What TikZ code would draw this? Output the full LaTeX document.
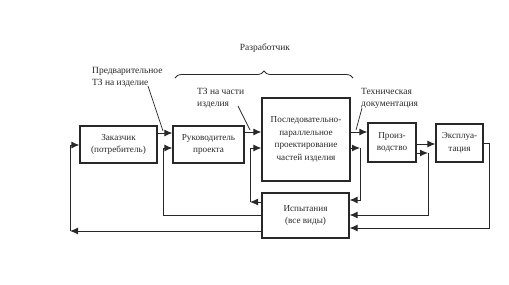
\documentclass[tikz,border=0pt]{standalone}
\usepackage{fontspec}
\setmainfont{Liberation Serif}
\usetikzlibrary{arrows.meta,decorations.pathreplacing}
\definecolor{ink}{RGB}{40,40,40}
\begin{document}
\begin{tikzpicture}[x=1bp,y=-1bp,
  box/.style={draw=ink,line width=1.2bp,inner sep=0pt,align=center,text=ink,
    font=\fontsize{9.2}{12.8}\selectfont},
  lbl/.style={inner sep=0pt,align=left,text=ink,font=\fontsize{9.5}{12}\selectfont},
  conn/.style={draw=ink,line width=1bp},
  arr/.style={conn,-{Latex[length=8bp,width=7bp]}},
  lead/.style={draw=ink,line width=0.7bp}]
\useasboundingbox (0,0) rectangle (509,284);
% boxes
\node[box,minimum width=77bp,minimum height=37bp] (zak) at (118.5,144.5) {Заказчик\\(потребитель)};
\node[box,minimum width=71bp,minimum height=37bp] (ruk) at (208.5,144.5) {Руководитель\\проекта};
\node[box,minimum width=88bp,minimum height=83bp] (pos) at (306,139.5) {Последовательно-\\параллельное\\проектирование\\частей изделия};
\node[box,minimum width=48bp,minimum height=39bp] (pro) at (392,142.5) {Произ-\\водство};
\node[box,minimum width=47bp,minimum height=38bp] (eks) at (459.5,143) {Эксплуа-\\тация};
\node[box,minimum width=87bp,minimum height=45bp] (isp) at (305.5,215.5) {Испытания\\(все виды)};
% labels
\node[lbl,anchor=west] (l1) at (92,77.5) {Предварительное\\ТЗ на изделие};
\node[lbl,anchor=west] (l2) at (197,98.5) {ТЗ на части\\изделия};
\node[lbl,anchor=west] (l3) at (361,98) {Техническая\\документация};
\node[lbl,anchor=center] (dev) at (265,48) {Разработчик};
% brace
\draw[ink,line width=0.8bp,decorate,decoration={brace,amplitude=7bp}] (175,78) -- (353,78);
% forward arrows
\draw[arr] (zak.east |- 0,133) -- (ruk.west |- 0,133);
\draw[arr] (ruk.east |- 0,132) -- (pos.west |- 0,132);
\draw[arr] (pos.east |- 0,132) -- (pro.west |- 0,132);
\draw[arr] (pro.east |- 0,144) -- (eks.west |- 0,144);
% leader lines
\coordinate (a1) at (148,86); \coordinate (b1) at (163,131);
\coordinate (a2) at (238,106); \coordinate (b2) at (250,130);
\coordinate (a3) at (362,108); \coordinate (b3) at (356,130);
\draw[lead] (a1) -- (b1);
\draw[lead] (a2) -- (b2);
\draw[lead] (a3) -- (b3);
% feedback loops
\coordinate (c1) at (250,202);
\draw[arr] (isp.west |- c1) -- (c1);
\draw[arr] (c1) -- (250,148) -- (pos.west |- 0,148);
\coordinate (c2) at (360,148);
\draw[arr] (pos.east |- c2) -- (c2);
\draw[arr] (c2) -- (360,200) -- (isp.east |- 0,200);
\coordinate (c3) at (428,153);
\draw[arr] (pro.east |- c3) -- (c3);
\draw[arr] (c3) -- (428,215) -- (isp.east |- 0,215);
\draw[arr] (eks.east |- 0,143) -- (489,143) -- (489,228) -- (isp.east |- 0,228);
\draw[arr] (isp.west |- 0,215) -- (163,215) -- (163,148) -- (ruk.west |- 0,148);
\coordinate (c4) at (70,231);
\draw[arr] (isp.west |- c4) -- (c4);
\draw[arr] (c4) -- (70,145) -- (zak.west |- 0,145);
\end{tikzpicture}
\end{document}
